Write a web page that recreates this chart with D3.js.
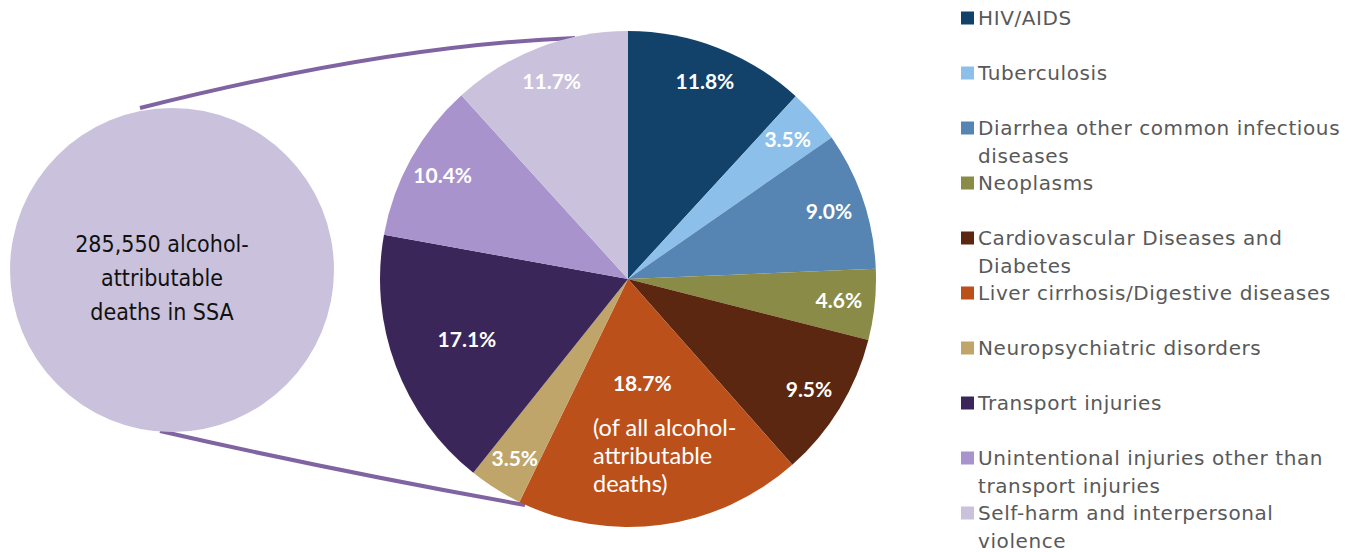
<!doctype html>
<html>
<head>
    <meta charset="utf-8">
    <title>Alcohol-attributable deaths in SSA</title>
    <style>
        body { margin: 0; background: #fff; }
        svg { display: block; }
    </style>
    <script src="https://d3js.org/d3.v7.min.js"></script>
</head>
<body>
<svg width="1359" height="552"></svg>
<script>
    // data
    var categories = ["HIV/AIDS", "Tuberculosis", "Diarrhea other common infectious diseases",
        "Neoplasms", "Cardiovascular Diseases and Diabetes", "Liver cirrhosis/Digestive diseases",
        "Neuropsychiatric disorders", "Transport injuries",
        "Unintentional injuries other than transport injuries", "Self-harm and interpersonal violence"];
    var shares = [11.8, 3.5, 9.0, 4.6, 9.5, 18.7, 3.5, 17.1, 10.4, 11.7];
    var colors = ["#12426a", "#8cc0eb", "#5785b3", "#898b47", "#5b2710", "#bc501a",
        "#bfa56a", "#3b265a", "#a893cd", "#cac1dc"];
    var totalText = ["285,550 alcohol-", "attributable", "deaths in SSA"];
    var noteText = ["(of all alcohol-", "attributable", "deaths)"];

    var svg = d3.select("svg");
    var cx = 628, cy = 279, R = 248;

    // callout lines from the summary bubble to the pie
    var linkColor = "#8064a2";
    svg.append("path")
        .attr("d", "M140,108 Q390,45 575,38")
        .attr("fill", "none").attr("stroke", linkColor).attr("stroke-width", 4);
    svg.append("path")
        .attr("d", "M160,431 Q330,470 525,505")
        .attr("fill", "none").attr("stroke", linkColor).attr("stroke-width", 4);

    // summary bubble
    svg.append("circle")
        .attr("cx", 172).attr("cy", 270).attr("r", 162)
        .attr("fill", "#cac1dc");
    svg.append("g").selectAll("text")
        .data(totalText)
        .enter().append("text")
        .attr("x", 162)
        .attr("y", function(d, i) { return 252 + i * 34; })
        .attr("text-anchor", "middle")
        .attr("font-family", "'DejaVu Sans Condensed', 'DejaVu Sans'")
        .attr("font-stretch", "condensed")
        .attr("font-size", 23)
        .attr("fill", "#111")
        .text(function(d) { return d; });

    // pie
    var data = categories.map(function(c, i) { return { name: c, value: shares[i], color: colors[i] }; });
    var pie = d3.pie().sort(null).value(function(d) { return d.value; });
    var arcs = pie(data);
    var arc = d3.arc().innerRadius(0).outerRadius(R);

    var g = svg.append("g").attr("transform", "translate(" + cx + "," + cy + ")");
    g.selectAll("path")
        .data(arcs)
        .enter().append("path")
        .attr("d", arc)
        .attr("fill", function(d) { return d.data.color; });

    var labelR = { "Liver cirrhosis/Digestive diseases": 106, "Transport injuries": 172 };
    function labelPos(d) {
        var r = labelR[d.data.name] || 212;
        var a = (d.startAngle + d.endAngle) / 2;
        return [r * Math.sin(a), -r * Math.cos(a)];
    }
    g.selectAll(".lbl")
        .data(arcs)
        .enter().append("text")
        .attr("class", "lbl")
        .attr("x", function(d) { return labelPos(d)[0]; })
        .attr("y", function(d) { return labelPos(d)[1]; })
        .attr("dy", "0.35em")
        .attr("text-anchor", "middle")
        .attr("font-family", "Lato")
        .attr("font-weight", "bold")
        .attr("font-size", 21)
        .attr("fill", "#fff")
        .text(function(d) { return d.data.value.toFixed(1) + "%"; });

    g.selectAll(".note")
        .data(noteText)
        .enter().append("text")
        .attr("class", "note")
        .attr("x", -35)
        .attr("y", function(d, i) { return 157 + i * 28; })
        .attr("font-family", "Lato")
        .attr("font-size", 23.5)
        .attr("fill", "#fff")
        .text(function(d) { return d; });

    // legend
    var ly = d3.scalePoint().domain(categories).range([18, 513]);
    var legend = svg.append("g").selectAll("g")
        .data(data)
        .enter().append("g")
        .attr("transform", function(d) { return "translate(961," + ly(d.name) + ")"; });
    legend.append("rect")
        .attr("x", 0).attr("y", -6.5)
        .attr("width", 13).attr("height", 13)
        .attr("fill", function(d) { return d.color; });
    legend.append("text")
        .attr("x", 17)
        .attr("dy", "0.35em")
        .attr("font-family", "DejaVu Sans")
        .attr("font-size", 20)
        .attr("letter-spacing", 0.6)
        .attr("fill", "#595959")
        .each(function(d) {
            var t = d3.select(this), words = d.name.split(" "), line = [];
            var ts = t.append("tspan").attr("x", 17);
            words.forEach(function(w) {
                line.push(w);
                ts.text(line.join(" "));
                if (ts.node().getComputedTextLength() > 380 && line.length > 1) {
                    line.pop();
                    ts.text(line.join(" "));
                    line = [w];
                    ts = t.append("tspan").attr("x", 17).attr("dy", 28).text(w);
                }
            });
        });
</script>
</body>
</html>
